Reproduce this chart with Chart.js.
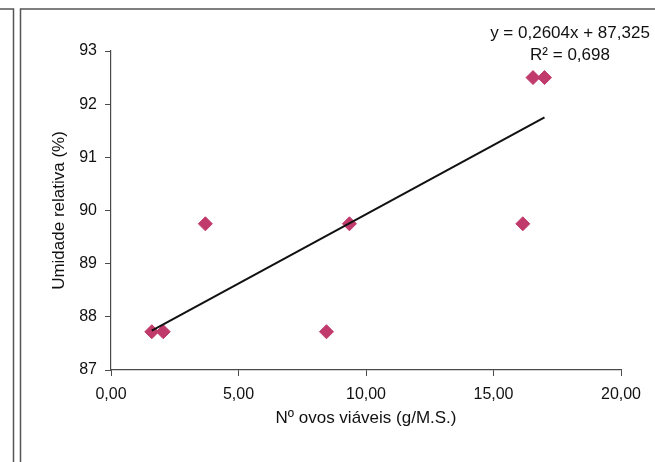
<!DOCTYPE html>
<html>
<head>
<meta charset="utf-8">
<script src="https://cdn.jsdelivr.net/npm/chart.js@4/dist/chart.umd.min.js"></script>
<style>
  html, body { margin: 0; padding: 0; background: #fff; }
  canvas { display: block; }
</style>
</head>
<body>
<canvas id="grafico" width="655" height="462"></canvas>
<script>
// Número de ovos viáveis (g/M.S.) e umidade relativa (%) de cada amostra
const ovosViaveis     = [1.6, 2.05, 3.7, 8.45, 9.35, 16.15, 16.55, 17.0];
const umidadeRelativa = [87.72, 87.72, 89.75, 87.72, 89.75, 89.75, 92.5, 92.5];

// Marcas dos eixos
const xTicks = [0, 5, 10, 15, 20];
const yTicks = [87, 88, 89, 90, 91, 92, 93];

// Linha de tendência linear: y = a·x + b
const trendSlope = 0.2604;
const trendIntercept = 87.325;
const trendR2 = 0.698;

const virgula = (v, d) => v.toFixed(d).replace('.', ',');

const pontos = ovosViaveis.map((x, i) => ({ x: x, y: umidadeRelativa[i] }));
const xMin = Math.min(...ovosViaveis);
const xMax = Math.max(...ovosViaveis);
const tendencia = [xMin, xMax].map(x => ({ x: x, y: trendIntercept + trendSlope * x }));

const FONTE = '"Liberation Sans", Arial, sans-serif';
const COR_EIXO = '#4a4a4a';

const molduraPlugin = {
  id: 'moldura',
  beforeDraw(chart) {
    const ctx = chart.ctx;
    ctx.save();
    ctx.fillStyle = '#fff';
    ctx.fillRect(0, 0, chart.width, chart.height);
    ctx.strokeStyle = '#555';
    ctx.lineWidth = 1.5;
    ctx.beginPath();
    ctx.moveTo(0, 9); ctx.lineTo(13.5, 9); ctx.lineTo(13.5, chart.height);
    ctx.moveTo(chart.width, 9); ctx.lineTo(20.5, 9); ctx.lineTo(20.5, chart.height);
    ctx.stroke();
    ctx.restore();
  },
  afterDraw(chart) {
    const ctx = chart.ctx;
    const cx = chart.chartArea.right - 51;
    ctx.save();
    ctx.fillStyle = '#111';
    ctx.font = '17px ' + FONTE;
    ctx.textAlign = 'center';
    ctx.textBaseline = 'middle';
    ctx.fillText('y = ' + virgula(trendSlope, 4) + 'x + ' + virgula(trendIntercept, 3), cx, 33);
    ctx.fillText('R\u00B2 = ' + virgula(trendR2, 3), cx, 55);
    ctx.restore();
  }
};

new Chart(document.getElementById('grafico'), {
  type: 'scatter',
  data: {
    datasets: [
      {
        label: 'Linear',
        data: tendencia,
        showLine: true,
        borderColor: '#111',
        borderWidth: 2,
        pointRadius: 0,
        order: 0
      },
      {
        label: 'Umidade relativa',
        data: pontos,
        pointStyle: 'rectRot',
        pointRadius: 7,
        pointBackgroundColor: '#c03a6c',
        pointBorderColor: '#c03a6c',
        pointBorderWidth: 1,
        order: 1
      }
    ]
  },
  options: {
    responsive: false,
    animation: false,
    layout: { padding: { left: 21, top: 51, right: 34, bottom: 0 } },
    plugins: { legend: { display: false }, tooltip: { enabled: false } },
    scales: {
      x: {
        type: 'linear',
        min: 0, max: 20,
        afterBuildTicks: s => { s.ticks = xTicks.map(v => ({ value: v })); },
        afterFit: s => { s.height = 92; },
        grid: { drawOnChartArea: false, drawTicks: true, tickLength: 6, color: COR_EIXO, lineWidth: 1 },
        border: { display: true, color: COR_EIXO, width: 1.2 },
        ticks: {
          padding: 9,
          color: '#111',
          font: { family: FONTE, size: 16 },
          maxRotation: 0,
          callback: v => virgula(v, 2)
        },
        title: {
          display: true,
          text: 'Nº ovos viáveis (g/M.S.)',
          color: '#111',
          font: { family: FONTE, size: 17 },
          padding: { top: 0, bottom: 33 }
        }
      },
      y: {
        type: 'linear',
        min: 87, max: 93,
        afterBuildTicks: s => { s.ticks = yTicks.map(v => ({ value: v })); },
        afterFit: s => { s.width = 90; },
        grid: { drawOnChartArea: false, drawTicks: true, tickLength: 6, color: COR_EIXO, lineWidth: 1 },
        border: { display: true, color: COR_EIXO, width: 1.2 },
        ticks: {
          padding: 8,
          color: '#111',
          font: { family: FONTE, size: 16 },
          callback: v => String(v)
        },
        title: {
          display: true,
          text: 'Umidade relativa (%)',
          color: '#111',
          font: { family: FONTE, size: 17 },
          padding: { top: 28, bottom: 0 }
        }
      }
    }
  },
  plugins: [molduraPlugin]
});
</script>
</body>
</html>
